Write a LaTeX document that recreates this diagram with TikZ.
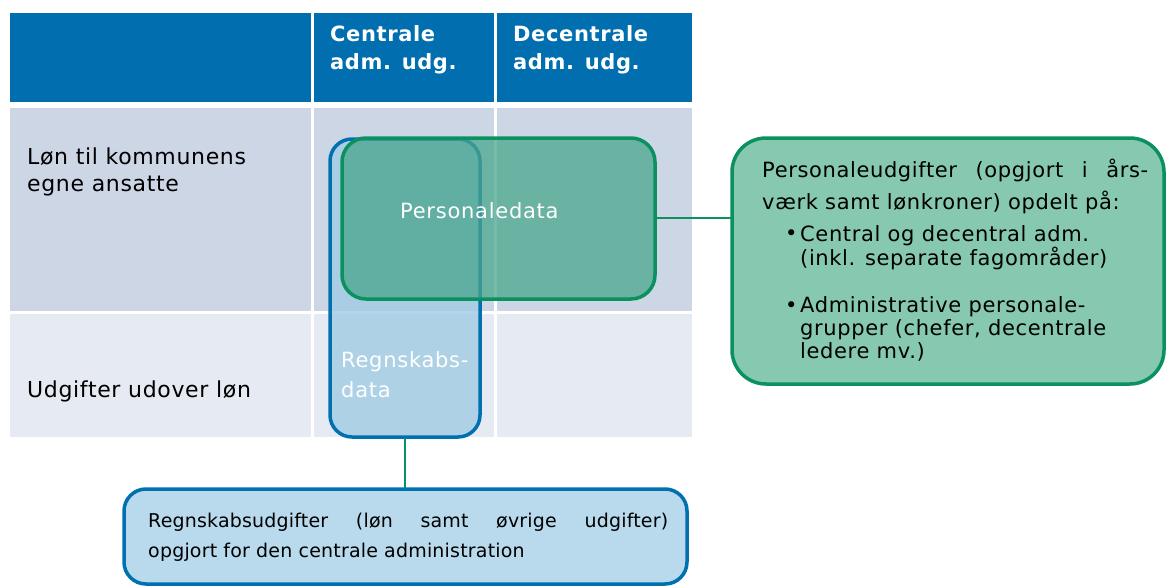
\documentclass[tikz,border=0pt]{standalone}
\usepackage{fontspec}
\setmainfont{DejaVu Sans}
\definecolor{hdr}{RGB}{0,110,175}
\definecolor{rowa}{RGB}{205,214,228}
\definecolor{rowb}{RGB}{230,234,242}
\definecolor{bstroke}{RGB}{0,112,176}
\definecolor{bfill}{RGB}{161,203,227}
\definecolor{gstroke}{RGB}{10,145,95}
\definecolor{gfill}{RGB}{74,166,141}
\definecolor{rfill}{RGB}{134,200,176}
\definecolor{bbfill}{RGB}{184,218,236}
\tikzset{
  hdrtxt/.style={anchor=base west, text=white, font=\fontsize{21}{28}\selectfont\bfseries\addfontfeatures{LetterSpace=3}, align=left, inner sep=0pt},
  rowtxt/.style={anchor=base west, text=black, font=\fontsize{22}{27}\selectfont\addfontfeatures{LetterSpace=3}, align=left, inner sep=0pt},
  whitetxt/.style={anchor=base west, text=white, font=\fontsize{21}{30}\selectfont\addfontfeatures{LetterSpace=3.5}, align=left, inner sep=0pt},
  boxtxt/.style={anchor=base west, text=black, font=\fontsize{21}{24}\selectfont\addfontfeatures{LetterSpace=3}, align=left, inner sep=0pt},
  bottxt/.style={anchor=base west, text=black, font=\fontsize{19}{30}\selectfont\addfontfeatures{LetterSpace=1}, align=left, inner sep=0pt},
  conn/.style={draw=gstroke, line width=1.2pt},
}
\begin{document}
\begin{tikzpicture}[x=1pt,y=-1pt]
\useasboundingbox (0,0) rectangle (1167,586);
% table
\fill[hdr] (10,13) rectangle (311,102);
\fill[hdr] (314,13) rectangle (494,102);
\fill[hdr] (497,13) rectangle (692,102);
\fill[rowa] (10,108) rectangle (311,311);
\fill[rowa] (314,108) rectangle (494,311);
\fill[rowa] (497,108) rectangle (692,311);
\fill[rowb] (10,314) rectangle (311,437);
\fill[rowb] (314,314) rectangle (494,437);
\fill[rowb] (497,314) rectangle (692,437);
\node[hdrtxt] (h1) at (330,70) {Centrale\\adm. udg.};
\node[hdrtxt] (h2) at (513,70) {Decentrale\\adm. udg.};
\node[rowtxt] (r1) at (27,191) {Løn til kommunens\\egne ansatte};
\node[rowtxt] (r2) at (27,397) {Udgifter udover løn};
% blue box
\draw[draw=bstroke, line width=3.5pt, fill=bfill, fill opacity=0.8, rounded corners=22pt] (330,139) rectangle (480,437);
\node[whitetxt] (rd) at (341,397) {Regnskabs-\\data};
% green box
\draw[draw=gstroke, line width=3.5pt, fill=gfill, fill opacity=0.75, rounded corners=24pt] (342,138) rectangle (655,299);
\node[whitetxt] (pd) at (400,218) {Personaledata};
\coordinate (bb) at (405,438);
\coordinate (gr) at (656,218);
% right box
\draw[draw=gstroke, line width=3.5pt, fill=rfill, rounded corners=34pt] (732,138) rectangle (1164,384);
\coordinate (rl) at (731,218);
\node[boxtxt, font=\fontsize{21}{32}\selectfont\addfontfeatures{LetterSpace=3}] (p1) at (762,209) {\makebox[386pt][s]{Personaleudgifter (opgjort i års-}\\værk samt lønkroner) opdelt på:};
\node[boxtxt] (b1) at (785,240) {•};
\node[boxtxt] (t1) at (800,265) {Central og decentral adm.\\(inkl. separate fagområder)};
\node[boxtxt] (b2) at (785,312) {•};
\node[boxtxt, font=\fontsize{21}{23}\selectfont\addfontfeatures{LetterSpace=3}] (t2) at (800,358) {Administrative personale-\\grupper (chefer, decentrale\\ledere mv.)};
% bottom box
\draw[draw=bstroke, line width=3.5pt, fill=bbfill, rounded corners=22pt] (124,489) rectangle (687,584);
\coordinate (bt) at (405,488);
\node[bottxt] (bx) at (148,557) {\makebox[520pt][s]{Regnskabsudgifter (løn samt øvrige udgifter)}\\opgjort for den centrale administration};
% connectors
\draw[conn] (gr) -- (rl);
\draw[conn] (bb) -- (bt);
\end{tikzpicture}
\end{document}
